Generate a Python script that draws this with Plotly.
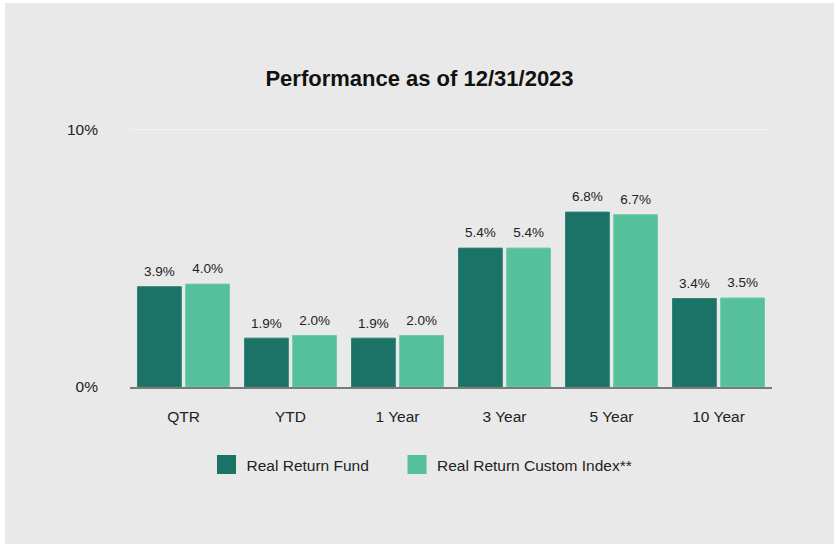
import plotly.graph_objects as go

categories = ["QTR", "YTD", "1 Year", "3 Year", "5 Year", "10 Year"]
fund_values = [3.9, 1.9, 1.9, 5.4, 6.8, 3.44]
index_values = [4.0, 2.0, 2.0, 5.4, 6.7, 3.46]
series_names = ["Real Return Fund", "Real Return Custom Index**"]
y_tick_vals = [0, 10]
y_tick_text = ["0%", "10%"]

DARK = "#1b7266"
LIGHT = "#55c09b"
BG = "#e9e9e9"
FONT = "Liberation Sans, Arial, sans-serif"

W, H = 829, 541

fig = go.Figure()
legend_ids = ["legend", "legend2"]
for i, (name, vals, col, edge) in enumerate([
    (series_names[0], fund_values, DARK, "#2f8376"),
    (series_names[1], index_values, LIGHT, "#6ccaa8"),
]):
    grp = f"g{i}"
    fig.add_trace(go.Bar(
        x=categories, y=vals, name=name, offsetgroup=grp,
        marker=dict(color=col, line=dict(color=edge, width=1)),
        showlegend=False,
        hoverinfo="skip",
    ))
    fig.add_trace(go.Scatter(
        x=categories, y=vals, name=name, offsetgroup=grp,
        mode="markers+text",
        marker=dict(size=10, color="rgba(0,0,0,0)"),
        text=[f"{v:.1f}%" for v in vals],
        textposition="top center",
        textfont=dict(size=13.5, color="#222222", family=FONT),
        cliponaxis=False,
        showlegend=False,
        hoverinfo="skip",
    ))
    fig.add_trace(go.Scatter(
        x=[None], y=[None], mode="markers", name=name, legend=legend_ids[i],
        marker=dict(symbol="square", size=16, color=col, line=dict(color=col, width=3)),
        showlegend=True,
    ))

legend_common = dict(orientation="h", xref="container", yref="container",
                     xanchor="left", y=1 - 462 / H, yanchor="middle",
                     font=dict(size=15.5, color="#222222", family=FONT),
                     itemsizing="trace", bgcolor="rgba(0,0,0,0)")

fig.update_layout(
    width=W, height=H,
    paper_bgcolor=BG, plot_bgcolor=BG,
    margin=dict(l=125, r=62, t=125, b=157),
    barmode="group", bargap=0.1, bargroupgap=0.09,
    scattermode="group", scattergap=0.1,
    font=dict(family=FONT, color="#222222"),
    title=dict(text="<b>Performance as of 12/31/2023</b>", x=0.5, xanchor="center",
               y=1 - 75 / H, yanchor="middle", xref="container",
               font=dict(size=22, color="#111111", family=FONT)),
    legend=dict(legend_common, x=201.5 / W),
    legend2=dict(legend_common, x=392 / W),
    showlegend=True,
)
fig.update_xaxes(
    type="category", showgrid=False, showline=True, linecolor="#7a7a7a", linewidth=2,
    tickfont=dict(size=15.5, color="#222222", family=FONT), ticks="", ticklabelstandoff=14,
    zeroline=False,
)
fig.update_yaxes(
    range=[0, 10.07], tickvals=y_tick_vals, ticktext=y_tick_text,
    showgrid=True, gridcolor="#f1f1f1", gridwidth=1, zeroline=False, showline=False,
    tickfont=dict(size=15.5, color="#222222", family=FONT), ticklabelstandoff=31,
)

fig.write_html("out.html", post_script="document.body.style.margin='3px 0 0 5px';document.body.style.background='#ffffff';")
